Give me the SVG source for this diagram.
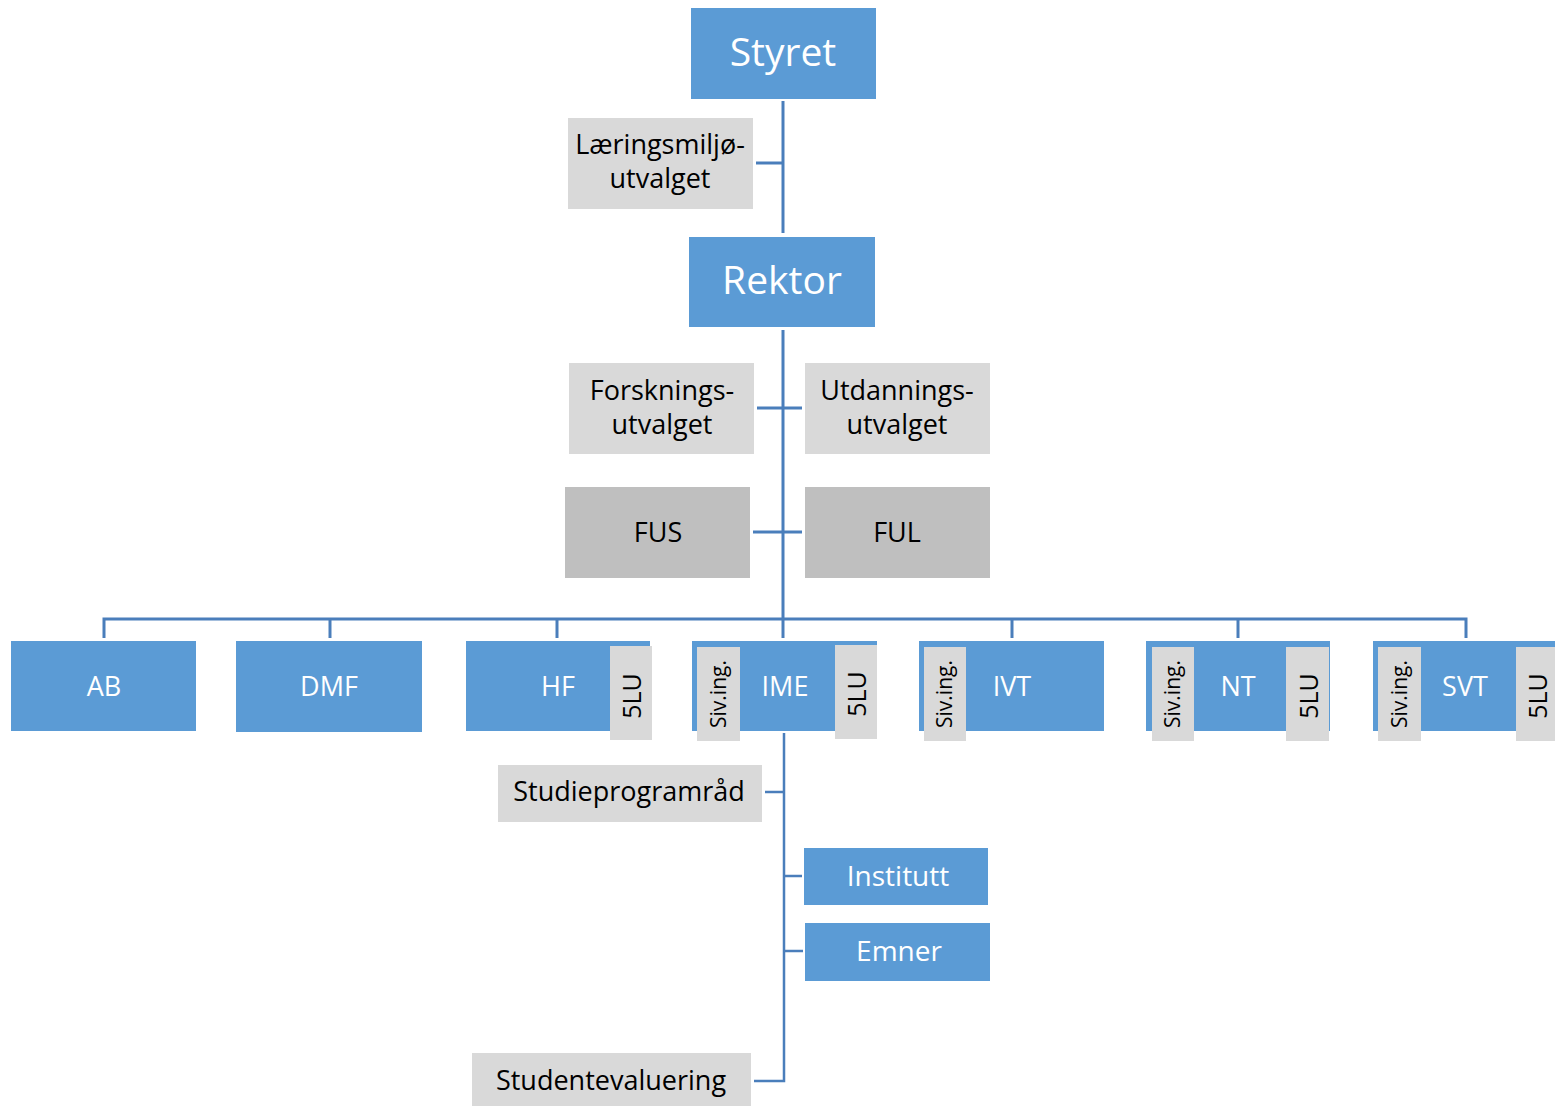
<svg xmlns="http://www.w3.org/2000/svg" width="1555" height="1106" viewBox="0 0 1555 1106">
<style>
.blue{fill:#5b9bd5}
.lg{fill:#d9d9d9}
.dg{fill:#bfbfbf}
.t{font-family:"Open Sans","Liberation Sans",sans-serif;text-anchor:middle}
.wb{fill:#ffffff;font-size:39px}
.wd{fill:#ffffff;font-size:27px}
.wm{fill:#ffffff;font-size:28px}
.bk{fill:#000000;font-size:27px}
.sv{fill:#000000;font-size:21px}
.lu{fill:#000000;font-size:25px}
.c{stroke:#4a7ebb;stroke-width:3;fill:none}
</style>
<g id="connectors">
<path class="c" d="M783,101 V233"/>
<path class="c" d="M756,163 H783"/>
<path class="c" d="M783,330 V619"/>
<path class="c" d="M757,408 H802"/>
<path class="c" d="M753,532 H802"/>
<path class="c" d="M104,638 V619 H1466 V638"/>
<path class="c" d="M330,619 V638"/>
<path class="c" d="M557,619 V638"/>
<path class="c" d="M783,619 V638"/>
<path class="c" d="M1012,619 V638"/>
<path class="c" d="M1238,619 V638"/>
<path class="c" d="M784,733 V1081 H754" style="stroke-width:2.5"/>
<path class="c" d="M765,792 H784" style="stroke-width:2.5"/>
<path class="c" d="M784,876 H802" style="stroke-width:2.5"/>
<path class="c" d="M784,951 H803" style="stroke-width:2.5"/>
</g>
<g id="styret"><rect class="blue" x="691" y="8" width="185" height="91"/><text class="t wb" x="783" y="66">Styret</text></g>
<g id="laeringsmiljo"><rect class="lg" x="568" y="118" width="185" height="91"/><text class="t bk"><tspan x="660" y="154">Læringsmiljø-</tspan><tspan x="660" y="188">utvalget</tspan></text></g>
<g id="rektor"><rect class="blue" x="689" y="237" width="186" height="90"/><text class="t wb" x="782" y="294">Rektor</text></g>
<g id="forskningsutvalget"><rect class="lg" x="569" y="363" width="185" height="91"/><text class="t bk"><tspan x="662" y="399.5">Forsknings-</tspan><tspan x="662" y="433.5">utvalget</tspan></text></g>
<g id="utdanningsutvalget"><rect class="lg" x="805" y="363" width="185" height="91"/><text class="t bk"><tspan x="897" y="399.5">Utdannings-</tspan><tspan x="897" y="433.5">utvalget</tspan></text></g>
<g id="fus"><rect class="dg" x="565" y="487" width="185" height="91"/><text class="t bk" x="658" y="542">FUS</text></g>
<g id="ful"><rect class="dg" x="805" y="487" width="185" height="91"/><text class="t bk" x="897" y="542">FUL</text></g>
<g id="ab"><rect class="blue" x="11" y="641" width="185" height="90"/><text class="t wd" x="104" y="696">AB</text></g>
<g id="dmf"><rect class="blue" x="236" y="641" width="186" height="91"/><text class="t wd" x="329" y="696">DMF</text></g>
<g id="hf"><rect class="blue" x="466" y="641" width="184" height="90"/><text class="t wd" x="558" y="696">HF</text>
<rect class="lg" x="610" y="646" width="42" height="94"/><text class="t lu" transform="translate(631,696) rotate(-90)" x="0" y="10">5LU</text></g>
<g id="ime"><rect class="blue" x="692" y="641" width="185" height="90"/><text class="t wd" x="785" y="696">IME</text>
<rect class="lg" x="697" y="647" width="43" height="94"/><text class="t sv" transform="translate(718.5,694) rotate(-90)" x="0" y="7">Siv.ing.</text>
<rect class="lg" x="835" y="645" width="42" height="94"/><text class="t lu" transform="translate(856,694) rotate(-90)" x="0" y="10">5LU</text></g>
<g id="ivt"><rect class="blue" x="919" y="641" width="185" height="90"/><text class="t wd" x="1012" y="696">IVT</text>
<rect class="lg" x="924" y="647" width="42" height="94"/><text class="t sv" transform="translate(945,694) rotate(-90)" x="0" y="7">Siv.ing.</text></g>
<g id="nt"><rect class="blue" x="1146" y="641" width="184" height="90"/><text class="t wd" x="1238" y="696">NT</text>
<rect class="lg" x="1152" y="647" width="42" height="94"/><text class="t sv" transform="translate(1173,694) rotate(-90)" x="0" y="7">Siv.ing.</text>
<rect class="lg" x="1286" y="647" width="43" height="94"/><text class="t lu" transform="translate(1307.5,696) rotate(-90)" x="0" y="10">5LU</text></g>
<g id="svt"><rect class="blue" x="1373" y="641" width="185" height="90"/><text class="t wd" x="1465" y="696">SVT</text>
<rect class="lg" x="1378" y="647" width="43" height="94"/><text class="t sv" transform="translate(1399.5,694) rotate(-90)" x="0" y="7">Siv.ing.</text>
<rect class="lg" x="1516" y="647" width="42" height="94"/><text class="t lu" transform="translate(1537,696) rotate(-90)" x="0" y="10">5LU</text></g>
<g id="studieprogramrad"><rect class="lg" x="498" y="765" width="264" height="57"/><text class="t bk" x="629" y="801">Studieprogramråd</text></g>
<g id="institutt"><rect class="blue" x="804" y="848" width="184" height="57"/><text class="t wm" x="898" y="886">Institutt</text></g>
<g id="emner"><rect class="blue" x="805" y="923" width="185" height="58"/><text class="t wm" x="899" y="961">Emner</text></g>
<g id="studentevaluering"><rect class="lg" x="472" y="1053" width="279" height="57"/><text class="t bk" x="611" y="1090">Studentevaluering</text></g>
</svg>
